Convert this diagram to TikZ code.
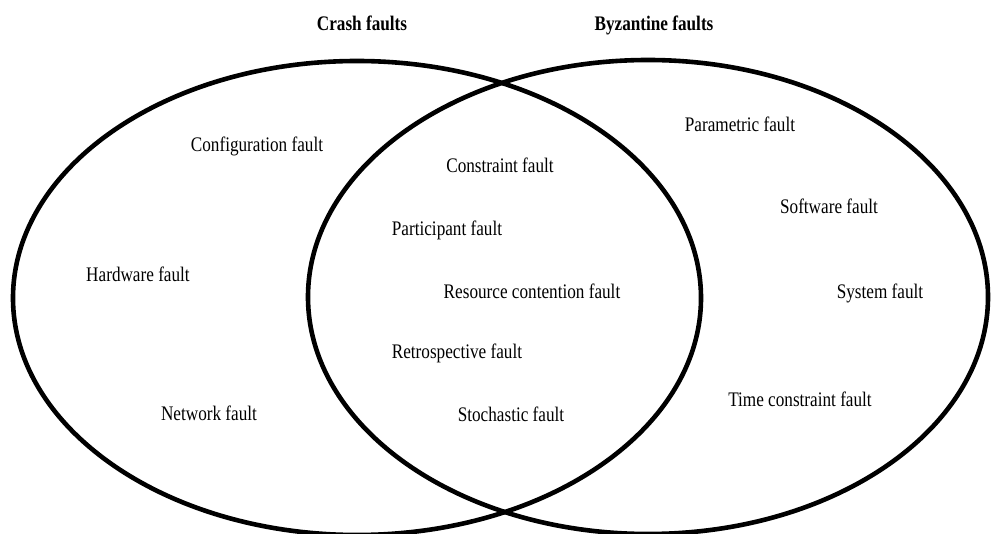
\documentclass[tikz,border=0pt]{standalone}
\usepackage{fontspec}
\setmainfont{Liberation Serif}[FakeStretch=0.83]
\begin{document}
\begin{tikzpicture}[x=1pt,y=-1pt,
  lbl/.style={anchor=base,inner sep=0pt,font=\fontsize{20.7}{24}\selectfont},
  ttl/.style={lbl,font=\fontsize{20.7}{24}\selectfont\bfseries},
  ring/.style={draw=black,line width=4.6pt}]
\useasboundingbox (0,0) rectangle (991,534);
\fill[white] (0,0) rectangle (991,534);
\draw[ring] (357,298) ellipse [x radius=344, y radius=237];
\draw[ring] (648,297) ellipse [x radius=340, y radius=237];
\node[ttl] (crash) at (362,31) {Crash faults};
\node[ttl] (byz) at (654,31) {Byzantine faults};
\node[lbl] (conf) at (257,152) {Configuration fault};
\node[lbl] (param) at (740,132) {Parametric fault};
\node[lbl] (constr) at (500,173) {Constraint fault};
\node[lbl] (soft) at (829,214) {Software fault};
\node[lbl] (part) at (447,236) {Participant fault};
\node[lbl] (hard) at (138,282) {Hardware fault};
\node[lbl] (res) at (532,299) {Resource contention fault};
\node[lbl] (sys) at (880,299) {System fault};
\node[lbl] (retro) at (457,359) {Retrospective fault};
\node[lbl] (time) at (800,407) {Time constraint fault};
\node[lbl] (net) at (209,421) {Network fault};
\node[lbl] (stoch) at (511,422) {Stochastic fault};
\end{tikzpicture}
\end{document}
